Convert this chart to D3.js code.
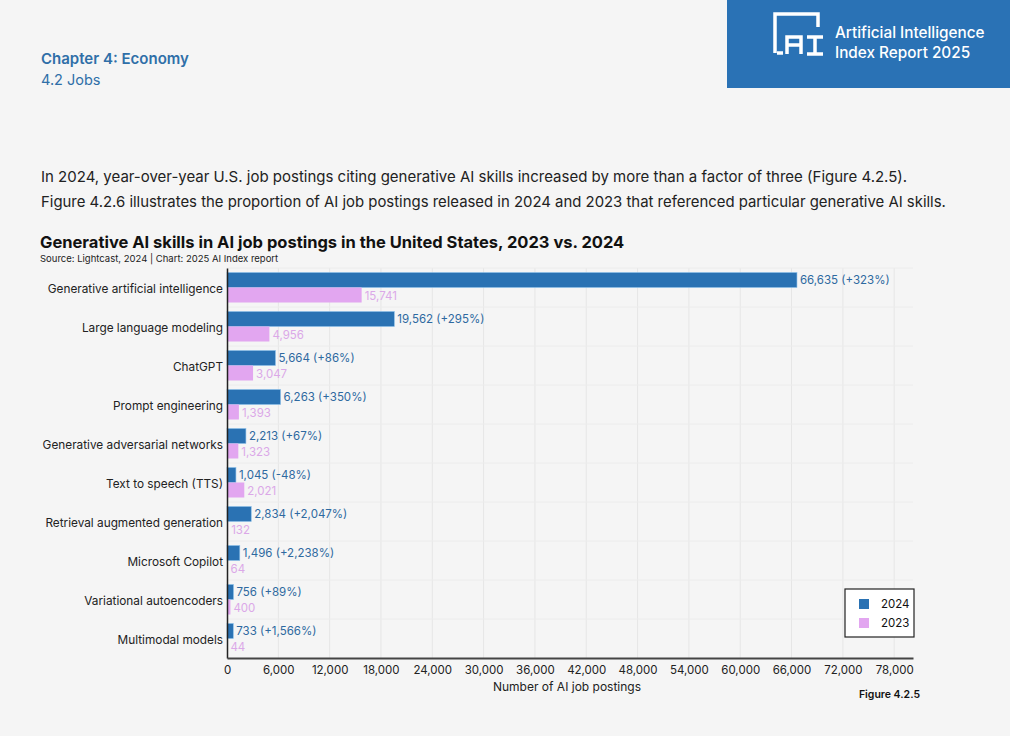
<!DOCTYPE html>
<html>
<head>
<meta charset="utf-8">
<script src="https://cdn.jsdelivr.net/npm/d3@7"></script>
<style>
  body { margin: 0; background: #f5f5f5; font-family: Inter, "Noto Sans", sans-serif; }
  svg { display: block; }
</style>
</head>
<body>
<svg id="chart" width="1010" height="736"></svg>
<script>
// data
const skills = ["Generative artificial intelligence", "Large language modeling", "ChatGPT",
  "Prompt engineering", "Generative adversarial networks", "Text to speech (TTS)",
  "Retrieval augmented generation", "Microsoft Copilot", "Variational autoencoders", "Multimodal models"]
const postings2024 = [66635, 19562, 5664, 6263, 2213, 1045, 2834, 1496, 756, 733]
const postings2023 = [15741, 4956, 3047, 1393, 1323, 2021, 132, 64, 400, 44]
const change = ["+323%", "+295%", "+86%", "+350%", "+67%", "-48%", "+2,047%", "+2,238%", "+89%", "+1,566%"]
const xTicks = [0, 6000, 12000, 18000, 24000, 30000, 36000, 42000, 48000, 54000, 60000, 66000, 72000, 78000]

const blue = "#2a72b3", pink = "#e2a6f0"
const svg = d3.select("#chart")

// page header
svg.append("rect").attr("x", 727).attr("y", 0).attr("width", 283).attr("height", 88).attr("fill", "#2a72b5")
let logo = svg.append("g").attr("fill", "none").attr("stroke", "#fff").attr("stroke-width", 3.5)
logo.append("path").attr("d", "M775,53 L775,14 L818,14 L818,27")
logo.append("path").attr("d", "M777,53 L783,53")
logo.append("path").attr("d", "M787,54 L787,37 L801,37 L801,54 M787,45 L801,45")
logo.append("path").attr("d", "M807,37 L823,37 M815,37 L815,54 M807,54 L823,54")
svg.append("text").attr("x", 835).attr("y", 38).attr("fill", "#fff").attr("font-size", 15.3).attr("font-weight", 500).text("Artificial Intelligence")
svg.append("text").attr("x", 835).attr("y", 58).attr("fill", "#fff").attr("font-size", 15.3).attr("font-weight", 500).text("Index Report 2025")

svg.append("text").attr("x", 41).attr("y", 64).attr("fill", "#2f6fa8").attr("font-size", 15).attr("font-weight", 600).text("Chapter 4: Economy")
svg.append("text").attr("x", 41).attr("y", 85).attr("fill", "#2f6fa8").attr("font-size", 14.5).text("4.2 Jobs")

svg.append("text").attr("x", 41).attr("y", 182).attr("fill", "#222").attr("font-size", 15)
  .text("In 2024, year-over-year U.S. job postings citing generative AI skills increased by more than a factor of three (Figure 4.2.5).")
svg.append("text").attr("x", 41).attr("y", 207).attr("fill", "#222").attr("font-size", 14.9)
  .text("Figure 4.2.6 illustrates the proportion of AI job postings released in 2024 and 2023 that referenced particular generative AI skills.")

svg.append("text").attr("x", 40).attr("y", 248).attr("fill", "#111").attr("font-size", 16.5).attr("font-weight", 700)
  .text("Generative AI skills in AI job postings in the United States, 2023 vs. 2024")
svg.append("text").attr("x", 40).attr("y", 262).attr("fill", "#222").attr("font-size", 9.5)
  .text("Source: Lightcast, 2024 | Chart: 2025 AI Index report")

// chart area
const pLeft = 227, pRight = 913, pTop = 268, pBottom = 658
const x = d3.scaleLinear().domain([0, 80200]).range([pLeft, pRight])
const y = d3.scaleBand().domain(skills).range([pTop, pBottom])
const sub = d3.scaleBand().domain(["2024", "2023"]).range([4.5, 34.5])

// grid
svg.append("g").selectAll("line").data(xTicks.slice(1)).enter().append("line")
  .attr("x1", d => x(d)).attr("x2", d => x(d)).attr("y1", pTop).attr("y2", pBottom)
  .attr("stroke", "#e6e6e6").attr("stroke-width", 1)
svg.append("g").selectAll("line").data(skills).enter().append("line")
  .attr("x1", pLeft).attr("x2", pRight).attr("y1", d => y(d)).attr("y2", d => y(d))
  .attr("stroke", "#ececec").attr("stroke-width", 1)

const rows = skills.map((s, i) => ({ s, v24: postings2024[i], v23: postings2023[i], c: change[i] }))

let g = svg.append("g").selectAll("g").data(rows).enter().append("g")
  .attr("transform", d => `translate(0,${y(d.s)})`)

g.append("rect").attr("x", x(0)).attr("y", sub("2024")).attr("height", sub.bandwidth())
  .attr("width", d => x(d.v24) - x(0)).attr("fill", blue).attr("stroke", "#8cc0ea").attr("stroke-width", 0.6)
g.append("rect").attr("x", x(0)).attr("y", sub("2023")).attr("height", sub.bandwidth())
  .attr("width", d => x(d.v23) - x(0)).attr("fill", pink)

g.append("text").attr("x", d => x(d.v24) + 3).attr("y", sub("2024") + sub.bandwidth() / 2)
  .attr("dy", "0.35em").attr("font-size", 11.5).attr("fill", "#2e69a0")
  .text(d => `${d3.format(",")(d.v24)} (${d.c})`)
g.append("text").attr("x", d => x(d.v23) + 3).attr("y", sub("2023") + sub.bandwidth() / 2 + 1)
  .attr("dy", "0.35em").attr("font-size", 11.5).attr("fill", "#dba8e8")
  .text(d => d3.format(",")(d.v23))

// y axis
let yAxis = svg.append("g").attr("transform", `translate(${pLeft},0)`)
  .call(d3.axisLeft(y).tickSize(0).tickPadding(4))
yAxis.select(".domain").attr("stroke", "#222").attr("stroke-width", 1.5)
yAxis.selectAll("text").attr("font-size", 11.8).attr("fill", "#222").attr("dy", "0.45em")
  .attr("font-family", "Inter, sans-serif")

// x axis
let xAxis = svg.append("g").attr("transform", `translate(0,${pBottom})`)
  .call(d3.axisBottom(x).tickValues(xTicks).tickFormat(d3.format(",")).tickSize(0).tickPadding(8))
xAxis.select(".domain").attr("stroke", "#444").attr("stroke-width", 2)
xAxis.selectAll("text").attr("font-size", 11.5).attr("fill", "#222").attr("font-family", "Inter, sans-serif")

svg.append("text").attr("x", (pLeft + pRight) / 2 - 3).attr("y", 691).attr("text-anchor", "middle")
  .attr("font-size", 12).attr("fill", "#222").text("Number of AI job postings")
svg.append("text").attr("x", 920).attr("y", 698).attr("text-anchor", "end")
  .attr("font-size", 10.5).attr("font-weight", 600).attr("fill", "#111").text("Figure 4.2.5")

// legend
let lg = svg.append("g").attr("transform", "translate(845,589)")
lg.append("rect").attr("width", 69).attr("height", 48).attr("fill", "#fff").attr("stroke", "#222").attr("stroke-width", 1.2)
const legendItems = [["2024", blue], ["2023", pink]]
legendItems.forEach(([t, c], i) => {
  lg.append("rect").attr("x", 14).attr("y", 10 + i * 19).attr("width", 10).attr("height", 10).attr("fill", c)
  lg.append("text").attr("x", 36).attr("y", 15 + i * 19).attr("dy", "0.35em").attr("font-size", 11.5).attr("fill", "#111").text(t)
})
</script>
</body>
</html>
